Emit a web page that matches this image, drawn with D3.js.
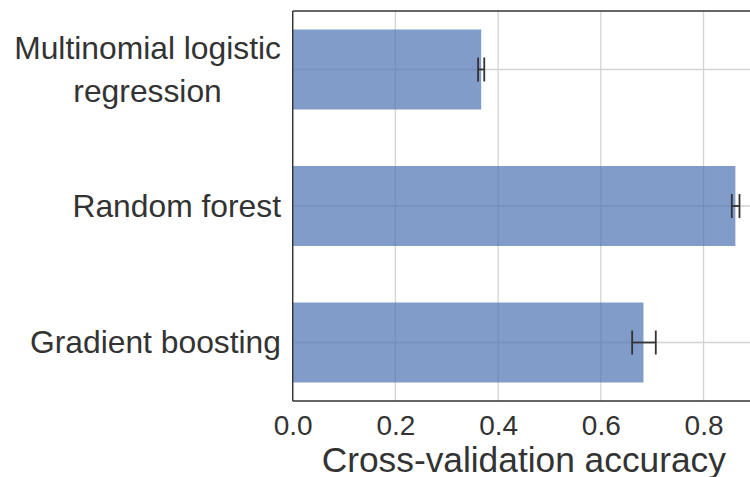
<!DOCTYPE html>
<html>
<head>
<meta charset="utf-8">
<script src="https://cdn.jsdelivr.net/npm/d3@7"></script>
<style>
  html, body { margin: 0; padding: 0; background: #fff; }
  svg { display: block; }
  text { font-family: "Liberation Sans", Arial, sans-serif; fill: #333; }
</style>
</head>
<body>
<svg id="chart" width="750" height="477"></svg>
<script>
// ---- data ----
const categories = [["Multinomial logistic", "regression"], ["Random forest"], ["Gradient boosting"]];
const accuracy = [0.367, 0.862, 0.683];
const errLow = [0.361, 0.855, 0.661];
const errHigh = [0.373, 0.870, 0.707];
const xTicks = [0.0, 0.2, 0.4, 0.6, 0.8];
const xLabel = "Cross-validation accuracy";

// ---- layout ----
const W = 750, H = 477;
const pLeft = 292.7, pRight = 754.9, pTop = 11, pBottom = 401;
const svg = d3.select("#chart");

const x = d3.scaleLinear().domain([0, 0.9]).range([pLeft, pRight]);
const y = d3.scaleBand().domain(d3.range(categories.length)).range([pTop, pBottom])
  .paddingInner(0.414).paddingOuter(0.1355);

const g = svg.append("g");

// grid
g.selectAll("line.vgrid").data(xTicks).join("line")
  .attr("x1", d => x(d)).attr("x2", d => x(d))
  .attr("y1", pTop).attr("y2", pBottom)
  .attr("stroke", "#d3d3d3").attr("stroke-width", 1.3);
g.selectAll("line.hgrid").data(d3.range(categories.length)).join("line")
  .attr("x1", pLeft).attr("x2", W)
  .attr("y1", d => y(d) + y.bandwidth() / 2).attr("y2", d => y(d) + y.bandwidth() / 2)
  .attr("stroke", "#d3d3d3").attr("stroke-width", 1.3);

// bars
g.selectAll("rect.bar").data(accuracy).join("rect")
  .attr("x", x(0)).attr("y", (d, i) => y(i))
  .attr("width", d => x(d) - x(0)).attr("height", y.bandwidth())
  .attr("fill", "#4C72B0").attr("fill-opacity", 0.7);

// error bars
const eb = g.selectAll("g.err").data(accuracy).join("g");
eb.append("line")
  .attr("x1", (d, i) => x(errLow[i])).attr("x2", (d, i) => x(errHigh[i]))
  .attr("y1", (d, i) => y(i) + y.bandwidth() / 2).attr("y2", (d, i) => y(i) + y.bandwidth() / 2)
  .attr("stroke", "#333").attr("stroke-width", 1.8);
[errLow, errHigh].forEach(arr => {
  eb.append("line")
    .attr("x1", (d, i) => x(arr[i])).attr("x2", (d, i) => x(arr[i]))
    .attr("y1", (d, i) => y(i) + y.bandwidth() / 2 - 12).attr("y2", (d, i) => y(i) + y.bandwidth() / 2 + 12)
    .attr("stroke", "#333").attr("stroke-width", 1.8);
});

// spines
const sp = svg.append("g").attr("stroke", "#333").attr("stroke-width", 1.4);
sp.append("line").attr("x1", pLeft).attr("x2", pLeft).attr("y1", pTop).attr("y2", pBottom);
sp.append("line").attr("x1", pLeft).attr("x2", W).attr("y1", pTop).attr("y2", pTop);
sp.append("line").attr("x1", pLeft).attr("x2", W).attr("y1", pBottom).attr("y2", pBottom);

// x axis tick labels
const xAxis = d3.axisBottom(x).tickValues(xTicks).tickFormat(d3.format(".1f")).tickSize(0).tickPadding(0);
const ax = svg.append("g").attr("transform", `translate(0,${pBottom})`).call(xAxis);
ax.select(".domain").remove();
ax.selectAll("text").attr("font-size", 28).attr("dy", null).attr("y", 34)
  .style("font-family", '"Liberation Sans", Arial, sans-serif').style("fill", "#333");

// x label
svg.append("text").attr("x", (pLeft + pRight) / 2).attr("y", 471.5)
  .attr("text-anchor", "middle").attr("font-size", 35.3).text(xLabel);

// y labels (multi-line, centre aligned, block right-aligned)
const lineH = 42.7;
categories.forEach((lines, i) => {
  const cy = y(i) + y.bandwidth() / 2;
  const t = svg.append("text").attr("font-size", 31.8).attr("text-anchor", "middle");
  const n = lines.length;
  lines.forEach((ln, j) => {
    t.append("tspan").attr("y", cy + 10.8 + (j - (n - 1) / 2) * lineH).text(ln);
  });
  const tsp = t.selectAll("tspan").nodes();
  const wMax = d3.max(tsp, s => s.getComputedTextLength());
  t.selectAll("tspan").attr("x", 281 - wMax / 2);
});
</script>
</body>
</html>
